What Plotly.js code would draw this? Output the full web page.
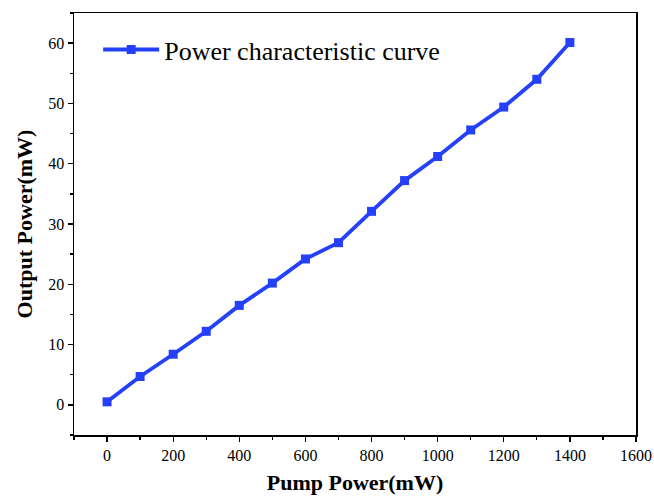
<!DOCTYPE html>
<html><head><meta charset="utf-8">
<script src="https://cdn.plot.ly/plotly-3.0.1.min.js"></script>
<style>html,body{margin:0;padding:0;background:#fff}</style>
</head><body><div id="chart" style="width:654px;height:497px"></div>
<script>
const pumpPower = [0, 100, 200, 300, 400, 500, 600, 700, 800, 900, 1000, 1100, 1200, 1300, 1400];
const outputPower = [0.5, 4.7, 8.4, 12.2, 16.5, 20.2, 24.2, 26.9, 32.1, 37.2, 41.2, 45.6, 49.4, 54.0, 60.1];
const seriesName = 'Power characteristic curve';
const xTitle = 'Pump Power(mW)';
const yTitle = 'Output Power(mW)';

const font = 'Liberation Serif, Times New Roman, serif';
Plotly.newPlot('chart', [{
  x: pumpPower, y: outputPower, name: seriesName,
  type: 'scatter', mode: 'lines+markers',
  line: {color: '#2440FA', width: 3.8},
  marker: {symbol: 'square', size: 9, color: '#2440FA'}
}], {
  width: 654, height: 497,
  margin: {l: 74, r: 18, t: 13, b: 62},
  paper_bgcolor: '#fff', plot_bgcolor: '#fff',
  showlegend: true,
  legend: {x: 0.043, y: 0.969, xanchor: 'left', yanchor: 'top', bgcolor: 'rgba(0,0,0,0)',
    font: {family: font, size: 26, color: '#000'}, itemwidth: 56},
  xaxis: {
    range: [-100, 1600], dtick: 200, tick0: 0,
    showgrid: false, zeroline: false,
    showline: true, linecolor: '#000', linewidth: 1.5, mirror: true,
    ticks: 'outside', ticklen: 5, tickwidth: 1.3, tickcolor: '#000',
    minor: {dtick: 100, tick0: 0, ticks: 'outside', ticklen: 3, tickwidth: 1.3, tickcolor: '#000'},
    tickfont: {family: font, size: 16, color: '#000'},
    title: {text: '<b>' + xTitle + '</b>', font: {family: font, size: 22, color: '#000'}, standoff: 12}
  },
  yaxis: {
    range: [-5, 65], dtick: 10, tick0: 0,
    showgrid: false, zeroline: false,
    showline: true, linecolor: '#000', linewidth: 1.5, mirror: true,
    ticks: 'outside', ticklen: 5, tickwidth: 1.3, tickcolor: '#000',
    minor: {dtick: 5, tick0: 0, ticks: 'outside', ticklen: 3, tickwidth: 1.3, tickcolor: '#000'},
    tickfont: {family: font, size: 16, color: '#000'},
    title: {text: '<b>' + yTitle + '</b>', font: {family: font, size: 22, color: '#000'}, standoff: 9}
  }
}, {displayModeBar: false, staticPlot: true});
</script></body></html>
